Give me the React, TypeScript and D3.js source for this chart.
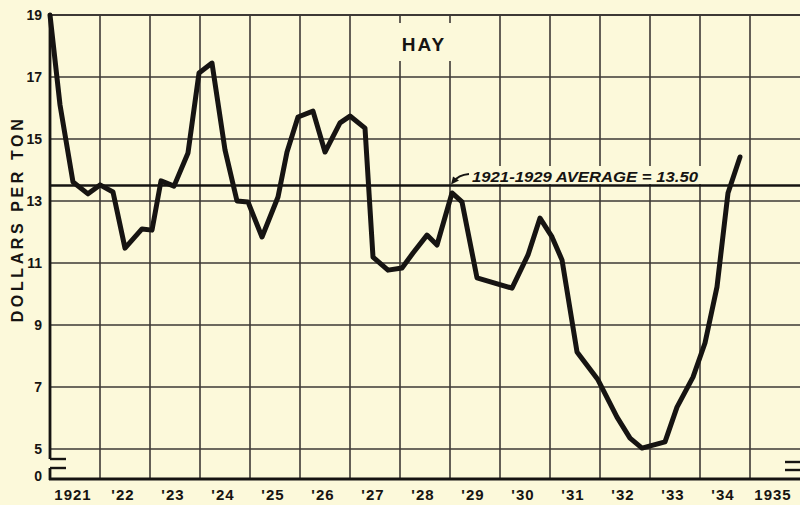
import React from "react";
import * as d3 from "d3";

// Hay price, dollars per ton (decimal year, value)
const years = [
  1921.0, 1921.2, 1921.46, 1921.76, 1922.0, 1922.26, 1922.5, 1922.84, 1923.04, 1923.22,
  1923.48, 1923.76, 1923.98, 1924.24, 1924.5, 1924.74, 1924.96, 1925.24, 1925.56, 1925.74,
  1925.96, 1926.26, 1926.5, 1926.8, 1927.0, 1927.3, 1927.46, 1927.76, 1928.04, 1928.26,
  1928.54, 1928.74, 1929.04, 1929.24, 1929.54, 1930.24, 1930.56, 1930.8, 1931.04, 1931.24,
  1931.54, 1931.96, 1932.34, 1932.6, 1932.84, 1933.3, 1933.54, 1933.86, 1934.1, 1934.34,
  1934.56, 1934.8,
];
const prices = [
  19.0, 16.1, 13.61, 13.23, 13.52, 13.29, 11.48, 12.1, 12.06, 13.65,
  13.48, 14.55, 17.13, 17.45, 14.65, 13.0, 12.97, 11.84, 13.13, 14.58,
  15.71, 15.9, 14.58, 15.52, 15.74, 15.35, 11.19, 10.77, 10.84, 11.32,
  11.9, 11.58, 13.26, 12.97, 10.52, 10.19, 11.26, 12.45, 11.84, 11.1,
  8.13, 7.23, 6.03, 5.35, 5.03, 5.23, 6.35, 7.32, 8.42, 10.23,
  13.26, 14.42,
];
const yTicks = [5, 7, 9, 11, 13, 15, 17, 19];
const xLabels = ["1921", "'22", "'23", "'24", "'25", "'26", "'27", "'28", "'29", "'30", "'31", "'32", "'33", "'34", "1935"];
const gridYears = d3.range(1922, 1936);
const average = 13.5;
const averageLabel = "1921-1929 AVERAGE = 13.50";
const title = "HAY";
const yTitle = "DOLLARS PER TON";

const W = 800;
const H = 505;
const BG = "#fcf9da";
const INK = "#161412";
const GRID = "#3d3935";
const FONT = "'Liberation Sans', Arial, sans-serif";

export default function App() {
  const x = d3.scaleLinear().domain([1921, 1936]).range([50, 800]);
  const y = d3.scaleLinear().domain([5, 19]).range([449, 15]);
  const yZero = 479;
  const breakTop = 459;
  const breakBottom = 468;

  const pts = years.map((t, i) => [t, prices[i]] as [number, number]);
  const line = d3
    .line<[number, number]>()
    .x((d) => x(d[0]))
    .y((d) => y(d[1]));

  const yAvg = y(average);
  const arrowTipX = x(1929.02);

  return (
    <svg
      width={W}
      height={H}
      viewBox={`0 0 ${W} ${H}`}
      style={{ position: "absolute", left: 0, top: 0, display: "block" }}
    >
      <rect x={0} y={0} width={W} height={H} fill={BG} />

      {/* horizontal grid */}
      {yTicks.map((v) => (
        <line key={"h" + v} x1={x(1921)} x2={W} y1={y(v)} y2={y(v)} stroke={GRID} strokeWidth={v === 19 ? 2.2 : 1.5} />
      ))}
      {/* vertical grid */}
      {gridYears.map((t) => (
        <line key={"v" + t} x1={x(t)} x2={x(t)} y1={y(19)} y2={yZero} stroke={GRID} strokeWidth={1.6} />
      ))}

      {/* title box */}
      <rect x={393} y={23} width={64} height={38} fill={BG} />
      <text x={424} y={51} textAnchor="middle" fontFamily={FONT} fontWeight="bold" fontSize={19} letterSpacing={2} fill={INK}>
        {title}
      </text>

      {/* average line */}
      <line x1={x(1921)} x2={W} y1={yAvg} y2={yAvg} stroke={INK} strokeWidth={2.6} />
      <rect x={468} y={166} width={234} height={18} fill={BG} />
      <text
        x={472}
        y={182}
        textLength={226}
        lengthAdjust="spacingAndGlyphs"
        fontFamily={FONT}
        fontWeight="bold"
        fontStyle="italic"
        fontSize={14}
        fill={INK}
      >
        {averageLabel}
      </text>
      <path
        d={`M469,174 Q458,175 ${arrowTipX + 3},${yAvg - 4}`}
        fill="none"
        stroke={INK}
        strokeWidth={1.8}
      />
      <path
        d={`M${arrowTipX},${yAvg - 1} l2,-8 l6,4 z`}
        fill={INK}
      />

      {/* axes */}
      <line x1={x(1921)} x2={x(1921)} y1={y(19) - 1} y2={breakTop} stroke={INK} strokeWidth={2.8} />
      <line x1={x(1921)} x2={x(1921) + 16} y1={breakTop} y2={breakTop} stroke={INK} strokeWidth={2.4} />
      <line x1={x(1921)} x2={x(1921) + 16} y1={breakBottom} y2={breakBottom} stroke={INK} strokeWidth={2.4} />
      <line x1={x(1921)} x2={x(1921)} y1={breakBottom} y2={yZero + 1} stroke={INK} strokeWidth={2.8} />
      <line x1={x(1921) - 1} x2={W} y1={yZero} y2={yZero} stroke={INK} strokeWidth={3} />
      <line x1={785} x2={W} y1={462} y2={462} stroke={INK} strokeWidth={2.4} />
      <line x1={785} x2={W} y1={470} y2={470} stroke={INK} strokeWidth={2.4} />

      {/* data line */}
      <path d={line(pts) || ""} fill="none" stroke={INK} strokeWidth={5} strokeLinejoin="round" strokeLinecap="round" />

      {/* y tick labels */}
      {yTicks.map((v) => (
        <text key={"yl" + v} x={42} y={y(v) + 5} textAnchor="end" fontFamily={FONT} fontWeight="bold" fontSize={14} fill={INK}>
          {v}
        </text>
      ))}
      <text x={42} y={yZero + 2} textAnchor="end" fontFamily={FONT} fontWeight="bold" fontSize={14} fill={INK}>
        0
      </text>

      {/* x labels */}
      {xLabels.map((s, i) => (
        <text
          key={"xl" + i}
          x={x(1921 + i + 0.5) - 2}
          y={500}
          textAnchor="middle"
          fontFamily={FONT}
          fontWeight="bold"
          fontSize={15}
          letterSpacing={1}
          fill={INK}
        >
          {s}
        </text>
      ))}

      {/* y title */}
      <text
        transform={`translate(23,219) rotate(-90)`}
        textAnchor="middle"
        fontFamily={FONT}
        fontWeight="bold"
        fontSize={16}
        letterSpacing={3.6}
        fill={INK}
      >
        {yTitle}
      </text>
    </svg>
  );
}
